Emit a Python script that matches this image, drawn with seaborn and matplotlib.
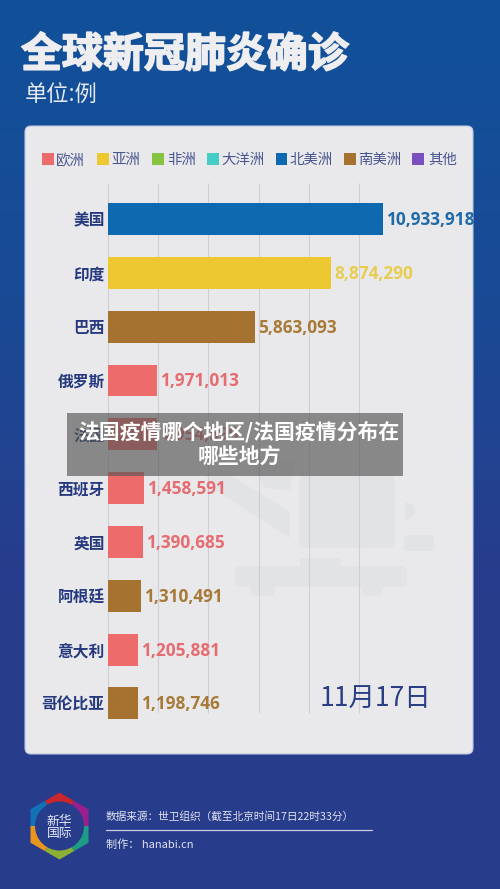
import numpy as np
import pandas as pd
import matplotlib
matplotlib.use("Agg")
import matplotlib.pyplot as plt
import matplotlib.patheffects as pe
from matplotlib.patches import FancyBboxPatch, Rectangle, Polygon, Wedge, Circle
from matplotlib.colors import LinearSegmentedColormap
import seaborn as sns

sns.set_theme(style="white")
CJK = ['Noto Sans CJK SC', 'DejaVu Sans']
plt.rcParams['font.family'] = CJK

countries = ["美国", "印度", "巴西", "俄罗斯", "法国", "西班牙", "英国", "阿根廷", "意大利", "哥伦比亚"]
cases = [10933918, 8874290, 5863093, 1971013, 1954599, 1458591, 1390685, 1310491, 1205881, 1198746]
regions = ["北美洲", "亚洲", "南美洲", "欧洲", "欧洲", "欧洲", "欧洲", "南美洲", "欧洲", "南美洲"]
legend_names = ["欧洲", "亚洲", "非洲", "大洋洲", "北美洲", "南美洲", "其他"]
legend_colors = ["#EE6B6B", "#EEC830", "#85C441", "#43CDC5", "#0F69B0", "#A6722F", "#7A4FBE"]
palette = dict(zip(legend_names, legend_colors))
label_colors = {"北美洲": "#1F6AA8", "亚洲": "#E8CC50", "南美洲": "#A87A38", "欧洲": "#E56C70"}
grid_ticks = [0, 2000000, 4000000, 6000000, 8000000, 10000000]

W, H = 500, 889
fig = plt.figure(figsize=(W / 100, H / 100), dpi=100)

bg = fig.add_axes([0, 0, 1, 1], zorder=0)
bg.set_xlim(0, W); bg.set_ylim(H, 0); bg.axis("off")
cmap = LinearSegmentedColormap.from_list("bg", ["#11519A", "#1A4A95", "#283C8C", "#283C8C"])
bg.imshow(np.linspace(0, 1, 256)[:, None], aspect="auto", extent=[0, W, H, 0], cmap=cmap, zorder=0)
panel = FancyBboxPatch((31, 132), 436, 616, boxstyle="round,pad=6",
                       fc="#E9E9EB", ec="#B9C6E0", lw=0.8, zorder=1)
bg.add_patch(panel)

# faint watermark
wm = "#E2E3E5"
bg.add_patch(Polygon([(222, 470), (290, 512), (290, 538), (215, 490), (205, 475)], fc=wm, ec="none", zorder=1.1))
bg.add_patch(Polygon([(250, 462), (295, 462), (290, 490), (265, 488)], fc=wm, ec="none", zorder=1.1))
bg.add_patch(FancyBboxPatch((306, 482), 82, 59, boxstyle="round,pad=7", fc=wm, ec="none", zorder=1.1))
bg.add_patch(Rectangle((300, 558), 41, 10, fc=wm, ec="none", zorder=1.1))
bg.add_patch(FancyBboxPatch((241, 572), 160, 9, boxstyle="round,pad=6", fc=wm, ec="none", zorder=1.1))
bg.add_patch(FancyBboxPatch((256, 586), 14, 5, boxstyle="round,pad=5", fc=wm, ec="none", zorder=1.1))
bg.add_patch(FancyBboxPatch((367, 586), 10, 5, boxstyle="round,pad=5", fc=wm, ec="none", zorder=1.1))
bg.add_patch(Polygon([(405, 502), (412, 504), (416, 511), (412, 518), (405, 520)], fc=wm, ec="none", zorder=1.1))
bg.add_patch(FancyBboxPatch((408, 539), 22, 8, boxstyle="round,pad=4", fc=wm, ec="none", zorder=1.1))

# title texts
bg.text(21, 55, "全球新冠肺炎确诊", color="#EEEEF0", fontsize=29.5, fontweight="bold", va="center", ha="left", zorder=2,
        path_effects=[pe.withStroke(linewidth=1.2, foreground="#EEEEF0")])
bg.text(25, 95, "单位:例", color="#E6E9F2", fontsize=16, va="center", ha="left", zorder=2)

# legend
lx = [42, 97, 152, 207, 275.5, 344, 412]
tx = [56, 111, 167, 221, 289, 358, 428]
for x, t, n, c in zip(lx, tx, legend_names, legend_colors):
    bg.add_patch(Rectangle((x, 153), 11.5, 12, fc=c, ec="none", zorder=2))
    bg.text(t, 160, n, color="#4A5690", fontsize=10.4, va="center", ha="left", zorder=2)

# chart
x0, x1 = 107.5, 383.0
ytop, ybot = 183.0, 722.0
ax = fig.add_axes([x0 / W, 1 - ybot / H, (x1 - x0) / W, (ybot - ytop) / H], zorder=1)
ax.patch.set_alpha(0)
df = pd.DataFrame({"country": countries, "cases": cases, "region": regions})
sns.barplot(data=df, y="country", x="cases", hue="region", palette=palette, dodge=False,
            width=0.594, legend=False, ax=ax, saturation=1, zorder=3, linewidth=0, edgecolor="none")
ax.set_xlim(0, max(cases))
ax.set_ylim(9.344, -0.669)
ax.set_xlabel(""); ax.set_ylabel("")
ax.set_xticks(grid_ticks)
ax.tick_params(axis="x", length=0, labelbottom=False)
ax.tick_params(axis="y", length=0, pad=2)
ax.set_yticks(range(len(countries)))
ax.set_yticklabels(countries, fontsize=11.3, fontweight="bold", color="#26397F")
ax.grid(False)
ax.vlines(grid_ticks, -0.669, 9.177, color="#CFCFD4", lw=0.8, zorder=1, clip_on=False)
for s in ax.spines.values():
    s.set_visible(False)
for i, (v, r) in enumerate(zip(cases, regions)):
    t = ax.annotate(f"{v:,}", (v, i), xytext=(2.2, -0.7), textcoords="offset points", va="center", ha="left",
                    color=label_colors[r], fontsize=12.4, fontweight="bold", family=['Open Sans', 'DejaVu Sans'],
                    zorder=5, annotation_clip=False)
    t.set_clip_path(panel)

# overlay: date, footer, banner
top = fig.add_axes([0, 0, 1, 1], zorder=5)
top.set_xlim(0, W); top.set_ylim(H, 0); top.axis("off"); top.patch.set_alpha(0)
top.text(375.5, 699, "11月17日", color="#2A3E85", fontsize=19, ha="center", va="center")

# logo ring
cx, cy = 59.5, 826
hexagon = Polygon([(cx + 33.5 * np.cos(np.radians(a)), cy - 33.5 * np.sin(np.radians(a))) for a in range(90, 450, 60)],
                  transform=top.transData, fc="none", ec="none")
top.add_patch(hexagon)
# the y axis is inverted here, so wedge angles run clockwise on screen
seg = [(240, 300, "#C9262E"), (300, 360, "#9A1F8C"), (0, 60, "#1F9C84"), (60, 120, "#8CB033"),
       (120, 180, "#E8951E"), (180, 240, "#1272B8")]
for a, b, c in seg:
    w = Wedge((cx, cy), 36, a, b, fc=c, ec="none")
    top.add_patch(w)
    w.set_clip_path(hexagon)
top.add_patch(Circle((cx, cy), 24.5, fc="#283C8C", ec="none"))
top.text(cx, 821, "新华", color="#E6E9F2", fontsize=9.2, ha="center", va="center")
top.text(cx, 834, "国际", color="#E6E9F2", fontsize=9.2, ha="center", va="center")

top.text(106, 816, "数据来源：世卫组织（截至北京时间17日22时33分）", color="#E0E3EE", fontsize=7.7, ha="left", va="center")
top.plot([106, 372], [830, 830], color="#C9D0E4", lw=0.9)
top.text(106, 845, "制作： hanabi.cn", color="#E0E3EE", fontsize=8, ha="left", va="center")

top.add_patch(Rectangle((67, 413), 336, 63, fc="#555555", alpha=0.65, ec="none"))
top.text(78, 432, "法国疫情哪个地区/法国疫情分布在", color="#FFFFFF", fontsize=15, fontweight="bold", ha="left", va="center")
top.text(239, 457, "哪些地方", color="#FFFFFF", fontsize=15, fontweight="bold", ha="center", va="center")

fig.savefig("out.png", dpi=100)
